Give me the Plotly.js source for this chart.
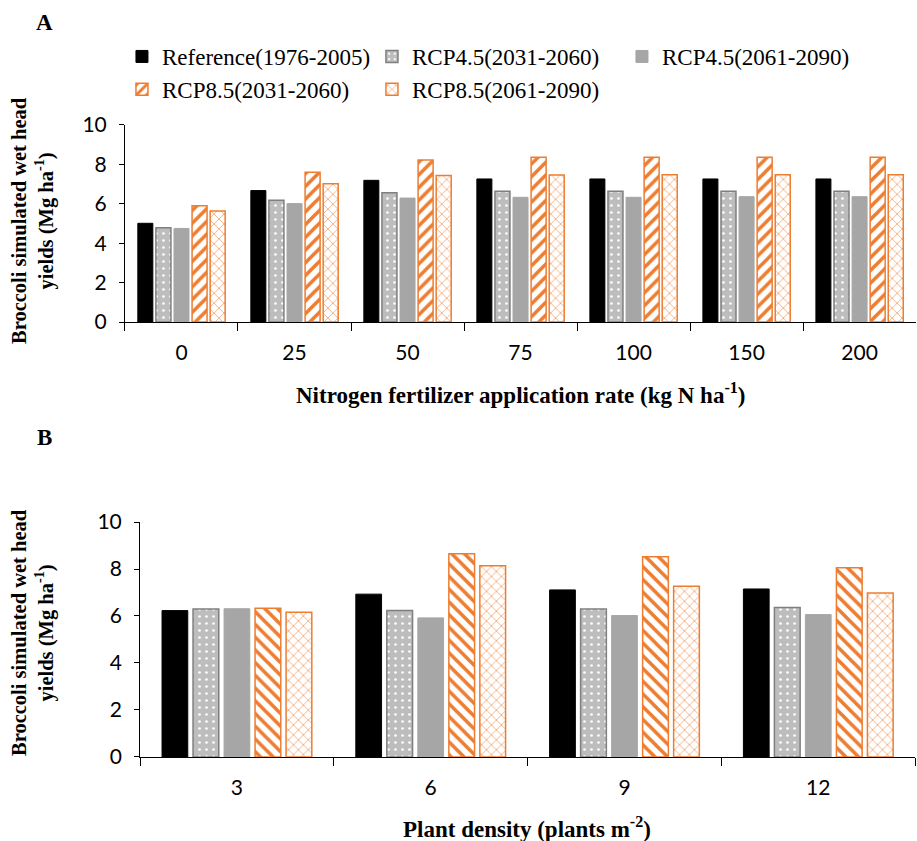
<!DOCTYPE html>
<html><head><meta charset="utf-8">
<script src="https://cdn.plot.ly/plotly-3.0.1.min.js"></script>
<style>body{margin:0;background:#fff}#chart{width:917px;height:841px}</style>
</head><body><div id="chart"></div>
<script>
const seriesNames = ["Reference(1976-2005)","RCP4.5(2031-2060)","RCP4.5(2061-2090)","RCP8.5(2031-2060)","RCP8.5(2061-2090)"];
const nitrogenCats = ["0","25","50","75","100","150","200"];
const nRef   = [5.01, 6.67, 7.19, 7.26, 7.26, 7.26, 7.26];
const nR45a  = [4.79, 6.18, 6.56, 6.63, 6.63, 6.63, 6.63];
const nR45b  = [4.75, 6.01, 6.29, 6.33, 6.33, 6.36, 6.36];
const nR85a  = [5.90, 7.60, 8.22, 8.36, 8.36, 8.36, 8.36];
const nR85b  = [5.63, 7.02, 7.43, 7.46, 7.48, 7.48, 7.48];
const densityCats = ["3","6","9","12"];
const dRef   = [6.23, 6.93, 7.11, 7.15];
const dR45a  = [6.30, 6.23, 6.30, 6.36];
const dR45b  = [6.31, 5.92, 6.02, 6.06];
const dR85a  = [6.33, 8.65, 8.52, 8.05];
const dR85b  = [6.16, 8.14, 7.27, 6.98];

const ORANGE = '#ED7D31';
function styles(slash){
  return [
    {color:'#000000', line:{color:'#000000', width:1}},
    {color:'#bfbfbf', line:{color:'#7f7f7f', width:1.5}, pattern:{shape:'.', fgcolor:'#ffffff', bgcolor:'#bdbdbd', size:7, solidity:0.12, fillmode:'replace'}},
    {color:'#a6a6a6', line:{color:'#a6a6a6', width:1}},
    {color:'#ffffff', line:{color:ORANGE, width:1.5}, pattern:{shape:slash, fgcolor:ORANGE, bgcolor:'#ffffff', size:9, solidity:0.4, fillmode:'replace'}},
    {color:'#ffffff', line:{color:ORANGE, width:1.5}, pattern:{shape:'x', fgcolor:'#f4b183', bgcolor:'#ffffff', size:7, solidity:0.25, fillmode:'replace'}}
  ];
}
const sA = styles('/'), sB = styles('\\');
const nData = [nRef,nR45a,nR45b,nR85a,nR85b];
const dData = [dRef,dR45a,dR45b,dR85a,dR85b];
const traces = [];
nData.forEach((v,i)=>traces.push({type:'bar', x:nitrogenCats, y:v, name:seriesNames[i], marker:sA[i], xaxis:'x', yaxis:'y', legendgroup:'g'+i, hoverinfo:'y'}));
dData.forEach((v,i)=>traces.push({type:'bar', x:densityCats, y:v, name:seriesNames[i], marker:sB[i], xaxis:'x2', yaxis:'y2', showlegend:false, legendgroup:'g'+i, hoverinfo:'y'}));

const tickFont = {family:'Lato, "Open Sans", sans-serif', size:21, color:'#000'};
const serif = '"Liberation Serif", "Times New Roman", serif';
const yTitleFont = {family:serif, size:20.5, color:'#000'};
const xTitleFont = {family:serif, size:23, color:'#000'};
const axY = {range:[0,10], dtick:2, ticks:'outside', ticklen:5, tickcolor:'#000', showline:true, linecolor:'#000', linewidth:1, showgrid:false, zeroline:false, tickfont:tickFont, ticklabelstandoff:8, fixedrange:true};
const axX = {type:'category', ticks:'outside', tickson:'boundaries', ticklen:8, tickcolor:'#000', showline:true, linecolor:'#000', linewidth:1, showgrid:false, tickfont:tickFont, ticklabelstandoff:12, fixedrange:true};

function ann(text, x, y, font, angle){
  return {text:text, xref:'paper', yref:'paper', x:x/917, y:1-y/841, xanchor:'center', yanchor:'middle', textangle:angle||0, showarrow:false, font:font};
}
const layout = {
  width:917, height:841, paper_bgcolor:'#fff', plot_bgcolor:'#fff',
  margin:{l:0,r:0,t:0,b:0, autoexpand:false},
  barmode:'group', bargap:0.2, bargroupgap:0.17,
  showlegend:true,
  legend:{orientation:'h', x:0.133, xanchor:'left', y:1-73/841, yanchor:'middle', entrywidth:205, entrywidthmode:'pixels',
          font:{family:serif, size:23, color:'#000'}, itemwidth:30, tracegroupgap:0, traceorder:'normal'},
  xaxis:Object.assign({}, axX, {domain:[0.1363,0.999], anchor:'y'}),
  yaxis:Object.assign({}, axY, {domain:[0.6171,0.8514], anchor:'x'}),
  xaxis2:Object.assign({}, axX, {domain:[0.1527,0.998], anchor:'y2'}),
  yaxis2:Object.assign({}, axY, {domain:[0.0999,0.3793], anchor:'x2'}),
  annotations:[
    ann('<b>A</b>', 44, 22, {family:serif, size:23, color:'#000'}),
    ann('<b>B</b>', 44, 437, {family:serif, size:23, color:'#000'}),
    ann('<b>Broccoli simulated wet head<br>yields (Mg ha<sup>-1</sup>)</b>', 33, 221, yTitleFont, -90),
    ann('<b>Broccoli simulated wet head<br>yields (Mg ha<sup>-1</sup>)</b>', 33, 633, yTitleFont, -90),
    ann('<b>Nitrogen fertilizer application rate (kg N ha<sup>-1</sup>)</b>', 521, 393, xTitleFont),
    ann('<b>Plant density (plants m<sup>-2</sup>)</b>', 527, 827, xTitleFont)
  ]
};
Plotly.newPlot('chart', traces, layout, {displayModeBar:false, staticPlot:true});
</script></body></html>
